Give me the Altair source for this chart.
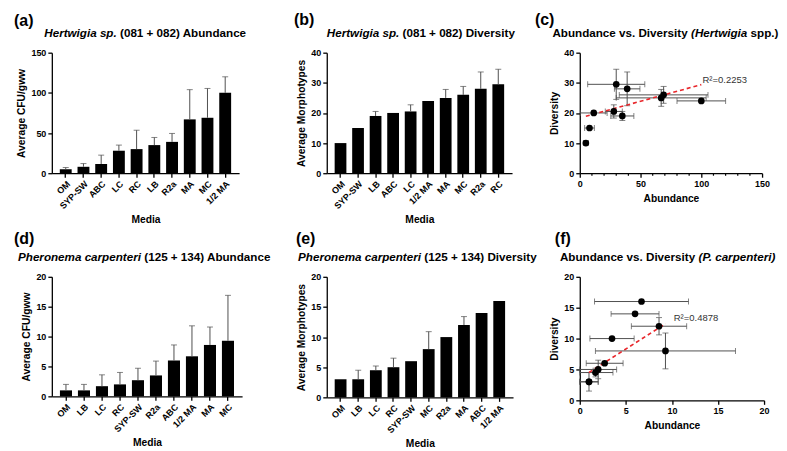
import altair as alt
import pandas as pd

# ---------------- data ----------------
h_abund_media = ["OM", "SYP-SW", "ABC", "LC", "RC", "LB", "R2a", "MA", "MC", "1/2 MA"]
h_abund_mean = [5, 8, 11.5, 28, 30, 35, 39, 67, 69, 100]
h_abund_sd = [2, 4, 11, 7, 23.5, 9.5, 10.5, 37, 36.5, 20]

h_div_media = ["OM", "SYP-SW", "LB", "ABC", "LC", "1/2 MA", "MA", "MC", "R2a", "RC"]
h_div_mean = [10, 15, 19, 20, 20.5, 24, 25, 26, 28, 29.5]
h_div_sd = [0, 0, 1.5, 0, 2.2, 0, 2.8, 2.8, 5.6, 5.0]

p_abund_media = ["OM", "LB", "LC", "RC", "SYP-SW", "R2a", "ABC", "1/2 MA", "MA", "MC"]
p_abund_mean = [1, 1, 1.7, 2, 2.7, 3.5, 6, 6.7, 8.6, 9.3]
p_abund_sd = [1, 1, 1.9, 2, 2, 2.4, 2.6, 5.1, 3, 7.6]

p_div_media = ["OM", "LB", "LC", "RC", "SYP-SW", "MC", "R2a", "MA", "ABC", "1/2 MA"]
p_div_mean = [3, 3, 4.5, 5, 6, 8, 10, 12, 14, 16]
p_div_sd = [0, 1.5, 0.7, 1.5, 0, 2.9, 0, 1.4, 0, 0]

h_fit_x = [5, 100]
h_fit_y = [18.9, 29.4]
h_r2_text = ["R\u00b2=0.2253"]
h_r2_x = [101]
h_r2_y = [30]

p_fit_x = [1, 9.3]
p_fit_y = [4.5, 12.4]
p_r2_text = ["R\u00b2=0.4878"]
p_r2_x = [10.2]
p_r2_y = [12.9]

h_minor_ticks = [10, 20, 30, 40, 60, 70, 80, 90, 110, 120, 130, 140]

# ---------------- styling helpers ----------------
FONT = "Liberation Sans"
EC = "#505050"
TS = 11.7

AW = {' ': 278, '(': 333, ')': 333, '+': 584, '.': 278, '/': 278, '=': 584, '-': 333,
      'A': 722, 'D': 722, 'H': 722, 'P': 667,
      'a': 556, 'b': 611, 'c': 556, 'd': 611, 'e': 556, 'g': 611, 'h': 611, 'i': 278,
      'm': 889, 'n': 611, 'o': 611, 'p': 611, 'r': 389, 's': 556, 't': 333, 'u': 611,
      'v': 556, 'w': 778, 'y': 556}


def tw(s, size):
    return sum(AW.get(ch, 556) for ch in s) * size / 1000.0


def text_layer(text, px, py, size, italic=False, bold=True, align="left", color="black"):
    return alt.Chart(pd.DataFrame({"t": [text]})).mark_text(
        align=align, baseline="alphabetic", fontSize=size,
        fontWeight="bold" if bold else "normal",
        fontStyle="italic" if italic else "normal",
        color=color, font=FONT,
    ).encode(text="t:N", x=alt.value(px), y=alt.value(py))


def title_layers(pieces, cx, by):
    sp = tw(" ", TS)
    total = sum(tw(t, TS) for t, _ in pieces) + sp * (len(pieces) - 1)
    x = cx - total / 2
    out = []
    for t, it in pieces:
        out.append(text_layer(t, x, by, TS, italic=it))
        x += tw(t, TS) + sp
    return out


def bar_panel(media, mean, sd, ytitle, ymax, ystep, pw, cellw, h, letter, lpos, pieces, tcx, tby):
    df = pd.DataFrame({"m": media, "v": mean, "sd": sd})
    xs = alt.Scale(range=[0, pw], paddingInner=0.33, paddingOuter=0.45)
    xax = alt.Axis(labelAngle=-45, labelAlign="right", labelBaseline="top",
                   labelOverlap=False, titlePadding=4, labelFontSize=9)
    X = alt.X("m:N", sort=media, scale=xs, axis=xax, title="Media")
    ysc = alt.Scale(domain=[0, ymax], nice=False)
    yax = alt.Axis(values=list(range(0, ymax + 1, ystep)), labelFlush=False)

    def Y(f):
        return alt.Y(f, type="quantitative", scale=ysc, axis=yax, title=ytitle)

    base = alt.Chart(df)
    bars = base.mark_bar(color="black").encode(x=X, y=Y("v"))
    eb = base.transform_filter("datum.sd > 0").transform_calculate(hi="datum.v + datum.sd")
    rule = eb.mark_rule(color=EC, strokeWidth=1).encode(x=X, y=Y("v"), y2="hi:Q")
    cap = eb.mark_tick(color=EC, thickness=1, size=6, orient="horizontal").encode(x=X, y=Y("hi"))
    layers = [bars, rule, cap, text_layer(letter, lpos[0], lpos[1], 16)]
    layers += title_layers(pieces, tcx, tby)
    return alt.layer(*layers).properties(width=cellw, height=h)


def scatter_panel(am, amean, asd, dm, dmean, dsd, xmax, xstep, ymax, ystep, fitx, fity,
                  r2t, r2x, r2y, pw, h, letter, lpos, pieces, tcx, tby, minor=None):
    a = pd.DataFrame({"m": am, "x": amean, "xsd": asd})
    d = pd.DataFrame({"m": dm, "y": dmean, "ysd": dsd})
    df = a.merge(d, on="m")
    xsc = alt.Scale(domain=[0, xmax], nice=False, clamp=True)
    ysc = alt.Scale(domain=[0, ymax], nice=False)
    xax = alt.Axis(values=list(range(0, xmax + 1, xstep)), labelFlush=False, titlePadding=5)
    yax = alt.Axis(values=list(range(0, ymax + 1, ystep)), labelFlush=False)

    def X(f):
        return alt.X(f, type="quantitative", scale=xsc, axis=xax, title="Abundance")

    def Y(f):
        return alt.Y(f, type="quantitative", scale=ysc, axis=yax, title="Diversity")

    base = alt.Chart(df).transform_calculate(
        x0="datum.x - datum.xsd", x1="datum.x + datum.xsd",
        y0="datum.y - datum.ysd", y1="datum.y + datum.ysd")
    hb = base.transform_filter("datum.xsd > 0")
    vb = base.transform_filter("datum.ysd > 0")
    layers = [
        hb.mark_rule(color=EC, strokeWidth=1).encode(x=X("x0"), x2="x1:Q", y=Y("y")),
        hb.mark_tick(color=EC, thickness=1, size=6, orient="vertical").encode(x=X("x0"), y=Y("y")),
        hb.mark_tick(color=EC, thickness=1, size=6, orient="vertical").encode(x=X("x1"), y=Y("y")),
        vb.mark_rule(color=EC, strokeWidth=1).encode(x=X("x"), y=Y("y0"), y2="y1:Q"),
        vb.mark_tick(color=EC, thickness=1, size=6, orient="horizontal").encode(x=X("x"), y=Y("y0")),
        vb.mark_tick(color=EC, thickness=1, size=6, orient="horizontal").encode(x=X("x"), y=Y("y1")),
        alt.Chart(pd.DataFrame({"fx": fitx, "fy": fity})).mark_line(
            color="#e8262b", strokeDash=[4, 3], strokeWidth=1.6).encode(x=X("fx"), y=Y("fy")),
        base.mark_circle(size=45, color="black", opacity=1).encode(x=X("x"), y=Y("y")),
        alt.Chart(pd.DataFrame({"t": r2t, "rx": r2x, "ry": r2y})).mark_text(
            align="left", baseline="alphabetic", fontSize=9.5, color="#333333", font=FONT
        ).encode(x=X("rx"), y=Y("ry"), text="t:N"),
    ]
    if minor:
        layers.append(alt.Chart(pd.DataFrame({"mt": minor})).mark_rule(
            color="black", strokeWidth=1.2).encode(x=X("mt"), y=alt.value(h), y2=alt.value(h + 2.5)))
    layers.append(text_layer(letter, lpos[0], lpos[1], 16))
    layers += title_layers(pieces, tcx, tby)
    return alt.layer(*layers).properties(width=pw, height=h)


pa = bar_panel(h_abund_media, h_abund_mean, h_abund_sd, "Average CFU/gww", 150, 50,
               188, 209, 121, "(a)", (-38, -27),
               [("Hertwigia sp.", True), ("(081 + 082) Abundance", False)], 94, -15.5)
pb = bar_panel(h_div_media, h_div_mean, h_div_sd, "Average Morphotypes", 40, 10,
               186, 186, 121, "(b)", (-33, -28),
               [("Hertwigia sp.", True), ("(081 + 082) Diversity", False)], 94.5, -15.5)
pc = scatter_panel(h_abund_media, h_abund_mean, h_abund_sd, h_div_media, h_div_mean, h_div_sd,
                   150, 50, 40, 10, h_fit_x, h_fit_y, h_r2_text, h_r2_x, h_r2_y,
                   183, 121, "(c)", (-45, -28),
                   [("Abundance vs. Diversity", False), ("(Hertwigia", True), ("spp.)", False)],
                   86, -15.5, minor=h_minor_ticks)
pd_ = bar_panel(p_abund_media, p_abund_mean, p_abund_sd, "Average CFU/gww", 20, 5,
                191, 209, 120, "(d)", (-38, -33),
                [("Pheronema carpenteri", True), ("(125 + 134) Abundance", False)], 93, -16)
pe = bar_panel(p_div_media, p_div_mean, p_div_sd, "Average Morphotypes", 20, 5,
               187, 187, 121, "(e)", (-31, -33),
               [("Pheronema carpenteri", True), ("(125 + 134) Diversity", False)], 91, -16)
pf = scatter_panel(p_abund_media, p_abund_mean, p_abund_sd, p_div_media, p_div_mean, p_div_sd,
                   20, 5, 20, 5, p_fit_x, p_fit_y, p_r2_text, p_r2_x, p_r2_y,
                   185, 124, "(f)", (-25, -33),
                   [("Abundance vs. Diversity", False), ("(P. carpenteri)", True)], 89, -16)

chart = alt.concat(
    pa, pb, pc, pd_, pe, pf, columns=3,
    spacing={"row": 104, "column": 67}, bounds="flush", align="each",
).properties(
    padding={"left": 6, "top": 3, "right": 0, "bottom": 0}
).configure(font=FONT).configure_view(stroke=None).configure_axis(
    domainColor="black", domainWidth=1.3, tickColor="black", tickWidth=1.3, tickSize=4,
    labelColor="black", labelFontSize=9, labelFontWeight="bold", labelPadding=2, labelFont=FONT,
    titleColor="black", titleFontSize=10.3, titleFontWeight="bold", titlePadding=4, titleFont=FONT,
    grid=False,
)

chart.save("out.html", embed_options={"renderer": "svg", "actions": False})
